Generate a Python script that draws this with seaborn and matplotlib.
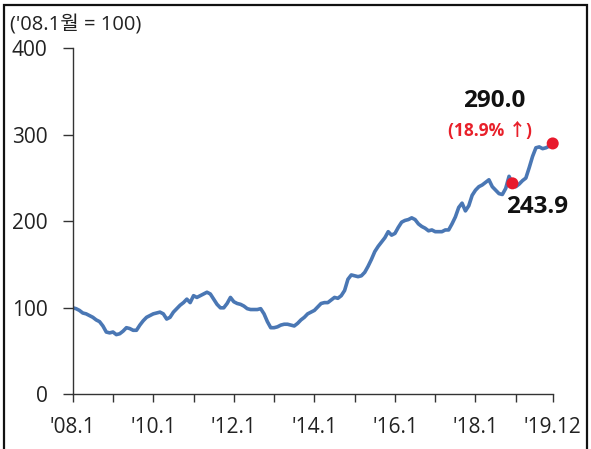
import numpy as np
import pandas as pd
import matplotlib
matplotlib.use("Agg")
import matplotlib.pyplot as plt
import seaborn as sns
from matplotlib.patches import Rectangle

# ---- data (monthly index, '08.1 = 100) ----
values = [
    100, 99, 97, 94, 93, 91, 89, 86, 84, 79, 72, 71,      # 2008
    72, 69, 70, 73, 77, 76, 74, 74, 80, 85, 89, 91,       # 2009
    93, 94, 95, 93, 87, 89, 95, 99, 103, 106, 110, 106,   # 2010
    114, 112, 114, 116, 118, 116, 110, 104, 100, 100, 105, 112,  # 2011
    107, 105, 104, 102, 99, 98, 98, 98, 99, 93, 84, 77,   # 2012
    77, 78, 80, 81, 81, 80, 79, 82, 86, 89, 93, 95,       # 2013
    97, 101, 105, 106, 106, 109, 112, 111, 114, 120, 133, 138,  # 2014
    137, 136, 137, 141, 148, 156, 165, 171, 176, 181, 188, 184,  # 2015
    186, 193, 199, 201, 202, 204, 202, 197, 194, 192, 189, 190,  # 2016
    188, 188, 188, 190, 190, 197, 205, 216, 221, 212, 218, 230,  # 2017
    236, 240, 242, 245, 248, 240, 236, 232, 231, 238, 252, 243.9,  # 2018
    240, 243, 247, 250, 262, 275, 285, 286, 284, 285, 287, 290.0,  # 2019
]
month_idx = list(range(len(values)))
highlight_idx = [131, 143]
highlight_vals = [243.9, 290.0]
xtick_major = [0, 24, 48, 72, 96, 120, 143]
xtick_labels = ["'08.1", "'10.1", "'12.1", "'14.1", "'16.1", "'18.1", "'19.12"]
xtick_minor = [12, 36, 60, 84, 108, 132]
yticks = [0, 100, 200, 300, 400]
header = "('08.1월 = 100)"
label_end = "290.0"
label_change = "(18.9% ↑)"
label_prev = "243.9"

df = pd.DataFrame({"m": month_idx, "v": values})
hl = pd.DataFrame({"m": highlight_idx, "v": highlight_vals})

sns.set_theme(style="ticks")
fam = ["Open Sans", "Noto Sans CJK KR", "DejaVu Sans"]
plt.rcParams["font.family"] = fam

W, H = 591, 449
fig = plt.figure(figsize=(W / 100, H / 100), dpi=100)
ax = fig.add_axes([72.7 / W, 1 - 394.3 / H, 480 / W, 346 / H])

sns.lineplot(data=df, x="m", y="v", ax=ax, color="#4a77b4", linewidth=2.6)
sns.scatterplot(data=hl, x="m", y="v", ax=ax, color="#e8192c", s=75,
                edgecolor="none", zorder=5, clip_on=False)

ax.set_xlim(0, 143)
ax.set_ylim(0, 400)
ax.set_xlabel("")
ax.set_ylabel("")

ax.set_xticks(xtick_major)
ax.set_xticklabels(xtick_labels)
ax.set_xticks(xtick_minor, minor=True)
ax.set_yticks(yticks)
ax.set_yticklabels([str(t) for t in yticks])

for s in ["top", "right"]:
    ax.spines[s].set_visible(False)
for s in ["left", "bottom"]:
    ax.spines[s].set_color("#333333")
    ax.spines[s].set_linewidth(1.0)

ax.tick_params(axis="x", which="both", direction="out", length=6, width=1,
               color="#333333", labelsize=15, pad=10.5, labelcolor="#222222")
ax.tick_params(axis="y", direction="out", length=7, width=1, color="#333333",
               labelsize=15, pad=11, labelcolor="#222222")

fig.text(10 / W, 1 - 26 / H, header, fontsize=14.5, va="center", ha="left",
         color="#222222")

fig.text(494 / W, 1 - 101 / H, label_end, fontsize=17.5, fontweight="bold",
         ha="center", va="center", color="#111111")
fig.text(490 / W, 1 - 131 / H, label_change, fontsize=12.5, fontweight="bold",
         ha="center", va="center", color="#e8202a")
fig.text(537 / W, 1 - 207 / H, label_prev, fontsize=17.5, fontweight="bold",
         ha="center", va="center", color="#111111")

# outer frame
fig.patches.append(Rectangle((4 / W, -0.1), (587 - 4) / W, 1.1 - 5 / H,
                             transform=fig.transFigure, fill=False,
                             edgecolor="#111111", linewidth=1.6))

fig.savefig("out.png", dpi=100)
